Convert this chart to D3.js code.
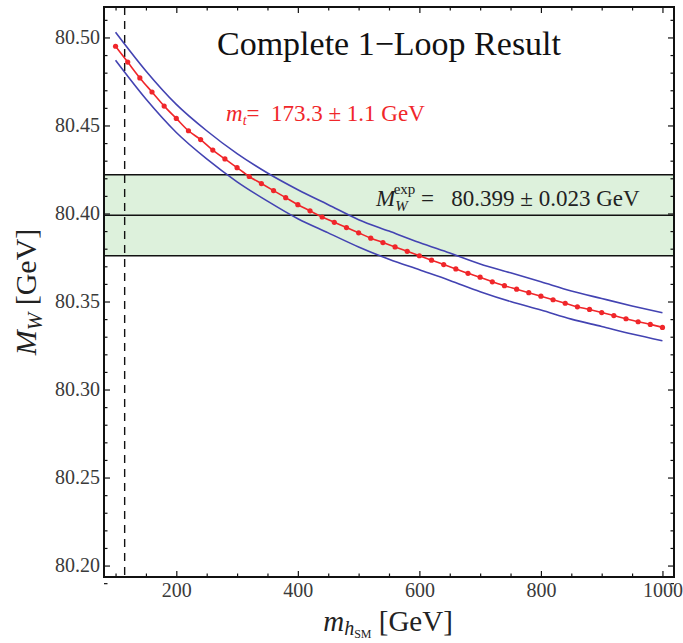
<!DOCTYPE html>
<html lang="en">
<head>
  <meta charset="UTF-8">
  <title>Complete 1-Loop Result</title>
  <style>
    body { margin: 0; background: #fff; }
    text { font-family: 'Liberation Serif', 'Times New Roman', 'DejaVu Serif', serif; }
  </style>
</head>
<body>
  <svg id="svg" width="683" height="643"></svg>

  <script src="https://d3js.org/d3.v7.min.js"></script>
  <script>
    // central curve, one dot every 20 GeV
    const mhCentral = d3.range(100, 1001, 20)
    const mwCentral = [
      80.495, 80.486, 80.477, 80.469, 80.461, 80.454, 80.447, 80.442, 80.436, 80.431,
      80.426, 80.421, 80.417, 80.413, 80.409, 80.405, 80.4015, 80.398, 80.395, 80.392,
      80.389, 80.386, 80.3835, 80.381, 80.3785, 80.376, 80.3735, 80.371, 80.3685, 80.366,
      80.3638, 80.3612, 80.359, 80.357, 80.355, 80.353, 80.351, 80.349, 80.347, 80.3455,
      80.3437, 80.342, 80.3402, 80.3385, 80.337, 80.3353
    ]

    // m_t +/- 1.1 GeV bands
    const mhBand = d3.range(100, 1001, 50)
    const mwUpper = [
      80.503, 80.481, 80.462, 80.447, 80.434, 80.423, 80.4135, 80.405, 80.3965, 80.390,
      80.3835, 80.3775, 80.3713, 80.3663, 80.3612, 80.356, 80.3517, 80.3475, 80.3436
    ]
    const mwLower = [
      80.487, 80.465, 80.446, 80.431, 80.418, 80.407, 80.397, 80.389, 80.381, 80.374,
      80.368, 80.362, 80.3556, 80.350, 80.3452, 80.340, 80.3358, 80.3315, 80.3277
    ]

    const mwExp = 80.399
    const mwExpErr = 0.023
    const lepBound = 115

    const xTicks = [200, 400, 600, 800, 1000]
    const xMinor = d3.range(100, 1001, 50).filter(v => !xTicks.includes(v))
    const yTicks = [80.20, 80.25, 80.30, 80.35, 80.40, 80.45, 80.50]
    const yMinor = d3.range(80.19, 80.515, 0.01).map(v => +v.toFixed(2))
      .filter(v => !yTicks.some(t => Math.abs(t - v) < 1e-6))

    const pLeft = 104, pRight = 674, pTop = 7, pBottom = 577
    const serif = "'Liberation Serif', 'Times New Roman', serif"

    const xScale = d3.scaleLinear().domain([81, 1019]).range([pLeft, pRight])
    const yScale = d3.scaleLinear().domain([80.1935, 80.5173]).range([pBottom, pTop])

    const svg = d3.select('#svg')

    const clip = svg.append('clipPath').attr('id', 'plot')
    clip.append('rect')
      .attr('x', pLeft).attr('y', pTop)
      .attr('width', pRight - pLeft).attr('height', pBottom - pTop)

    const plot = svg.append('g').attr('clip-path', 'url(#plot)')

    // experimental band
    plot.append('rect')
      .attr('x', pLeft)
      .attr('width', pRight - pLeft)
      .attr('y', yScale(mwExp + mwExpErr))
      .attr('height', yScale(mwExp - mwExpErr) - yScale(mwExp + mwExpErr))
      .attr('fill', '#ddf1dc')

    ;[mwExp + mwExpErr, mwExp, mwExp - mwExpErr].forEach(v => {
      plot.append('line')
        .attr('x1', pLeft).attr('x2', pRight)
        .attr('y1', yScale(v)).attr('y2', yScale(v))
        .attr('stroke', '#111')
        .attr('stroke-width', 1.4)
    })

    // LEP lower bound
    plot.append('line')
      .attr('x1', xScale(lepBound)).attr('x2', xScale(lepBound))
      .attr('y1', pTop).attr('y2', pBottom)
      .attr('stroke', '#111')
      .attr('stroke-width', 1.4)
      .attr('stroke-dasharray', '8,6')

    const line = d3.line()
      .x(d => xScale(d[0]))
      .y(d => yScale(d[1]))
      .curve(d3.curveMonotoneX)

    ;[mwUpper, mwLower].forEach(arr => {
      plot.append('path')
        .attr('d', line(mhBand.map((m, i) => [m, arr[i]])))
        .attr('fill', 'none')
        .attr('stroke', '#4343b2')
        .attr('stroke-width', 1.6)
    })

    const central = mhCentral.map((m, i) => [m, mwCentral[i]])
    plot.append('path')
      .attr('d', line(central))
      .attr('fill', 'none')
      .attr('stroke', '#f0262a')
      .attr('stroke-width', 1.6)

    plot.selectAll('circle.pt')
      .data(central)
      .enter()
      .append('circle')
      .attr('class', 'pt')
      .attr('cx', d => xScale(d[0]))
      .attr('cy', d => yScale(d[1]))
      .attr('r', 2.6)
      .attr('fill', '#f0262a')

    // axes, ticks pointing inward on all four sides
    function styleAxis(g) {
      g.select('.domain').remove()
      g.selectAll('line').attr('stroke', '#111').attr('stroke-width', 1.2)
      g.selectAll('text')
        .attr('font-family', serif)
        .style('font-family', serif)
        .style('font-size', '20px')
        .attr('fill', '#3a3a3a')
    }

    svg.append('g')
      .attr('transform', `translate(0,${pBottom})`)
      .call(d3.axisBottom(xScale).tickValues(xTicks).tickSize(-6).tickPadding(6).tickFormat(d3.format('d')))
      .call(styleAxis)
    svg.append('g')
      .attr('transform', `translate(0,${pBottom})`)
      .call(d3.axisBottom(xScale).tickValues(xMinor).tickSize(-3.5).tickFormat(''))
      .call(styleAxis)
    svg.append('g')
      .attr('transform', `translate(0,${pTop})`)
      .call(d3.axisTop(xScale).tickValues(xTicks).tickSize(-6).tickFormat(''))
      .call(styleAxis)
    svg.append('g')
      .attr('transform', `translate(0,${pTop})`)
      .call(d3.axisTop(xScale).tickValues(xMinor).tickSize(-3.5).tickFormat(''))
      .call(styleAxis)

    svg.append('g')
      .attr('transform', `translate(${pLeft},0)`)
      .call(d3.axisLeft(yScale).tickValues(yTicks).tickSize(-6).tickPadding(4).tickFormat(d3.format('.2f')))
      .call(styleAxis)
    svg.append('g')
      .attr('transform', `translate(${pLeft},0)`)
      .call(d3.axisLeft(yScale).tickValues(yMinor).tickSize(-3.5).tickFormat(''))
      .call(styleAxis)
    svg.append('g')
      .attr('transform', `translate(${pRight},0)`)
      .call(d3.axisRight(yScale).tickValues(yTicks).tickSize(-6).tickFormat(''))
      .call(styleAxis)
    svg.append('g')
      .attr('transform', `translate(${pRight},0)`)
      .call(d3.axisRight(yScale).tickValues(yMinor).tickSize(-3.5).tickFormat(''))
      .call(styleAxis)

    // frame
    svg.append('rect')
      .attr('x', pLeft).attr('y', pTop)
      .attr('width', pRight - pLeft).attr('height', pBottom - pTop)
      .attr('fill', 'none')
      .attr('stroke', '#111')
      .attr('stroke-width', 2)

    // title
    svg.append('text')
      .attr('x', 389).attr('y', 55)
      .attr('text-anchor', 'middle')
      .style('font-size', '34px')
      .attr('fill', '#111')
      .text('Complete 1\u2212Loop Result')

    // m_t label
    const mt = svg.append('text')
      .attr('x', 226).attr('y', 121)
      .style('font-size', '23px')
      .attr('fill', '#f0262a')
    mt.append('tspan').style('font-style', 'italic').text('m')
    mt.append('tspan').style('font-style', 'italic').style('font-size', '14px').attr('dy', 4).text('t')
    mt.append('tspan').attr('dy', -4).text('=\u00a0 173.3 \u00b1 1.1 GeV')

    // experimental value label
    const ex = svg.append('text')
      .attr('x', 376).attr('y', 206)
      .style('font-size', '23px')
      .attr('fill', '#222')
    ex.append('tspan').style('font-style', 'italic').text('M')
    ex.append('tspan').style('font-style', 'italic').style('font-size', '15px').attr('dy', 5).text('W')
    ex.append('tspan').style('font-size', '15px').attr('dx', -14).attr('dy', -17).text('exp')
    ex.append('tspan').attr('dy', 12).text('\u00a0=\u00a0\u00a0 80.399 \u00b1 0.023 GeV')

    // axis titles
    const xl = svg.append('text')
      .attr('x', 388).attr('y', 631)
      .attr('text-anchor', 'middle')
      .style('font-size', '29px')
      .attr('fill', '#222')
    xl.append('tspan').style('font-style', 'italic').text('m')
    xl.append('tspan').style('font-style', 'italic').style('font-size', '20px').attr('dy', 4).text('h')
    xl.append('tspan').style('font-size', '12px').attr('dy', 3).text('SM')
    xl.append('tspan').attr('dy', -7).text(' [GeV]')

    const yl = svg.append('text')
      .attr('transform', 'translate(36,292) rotate(-90)')
      .attr('text-anchor', 'middle')
      .style('font-size', '30px')
      .attr('fill', '#222')
    yl.append('tspan').style('font-style', 'italic').text('M')
    yl.append('tspan').style('font-style', 'italic').style('font-size', '21px').attr('dy', 6).text('W')
    yl.append('tspan').attr('dy', -6).text(' [GeV]')
  </script>
</body>
</html>
